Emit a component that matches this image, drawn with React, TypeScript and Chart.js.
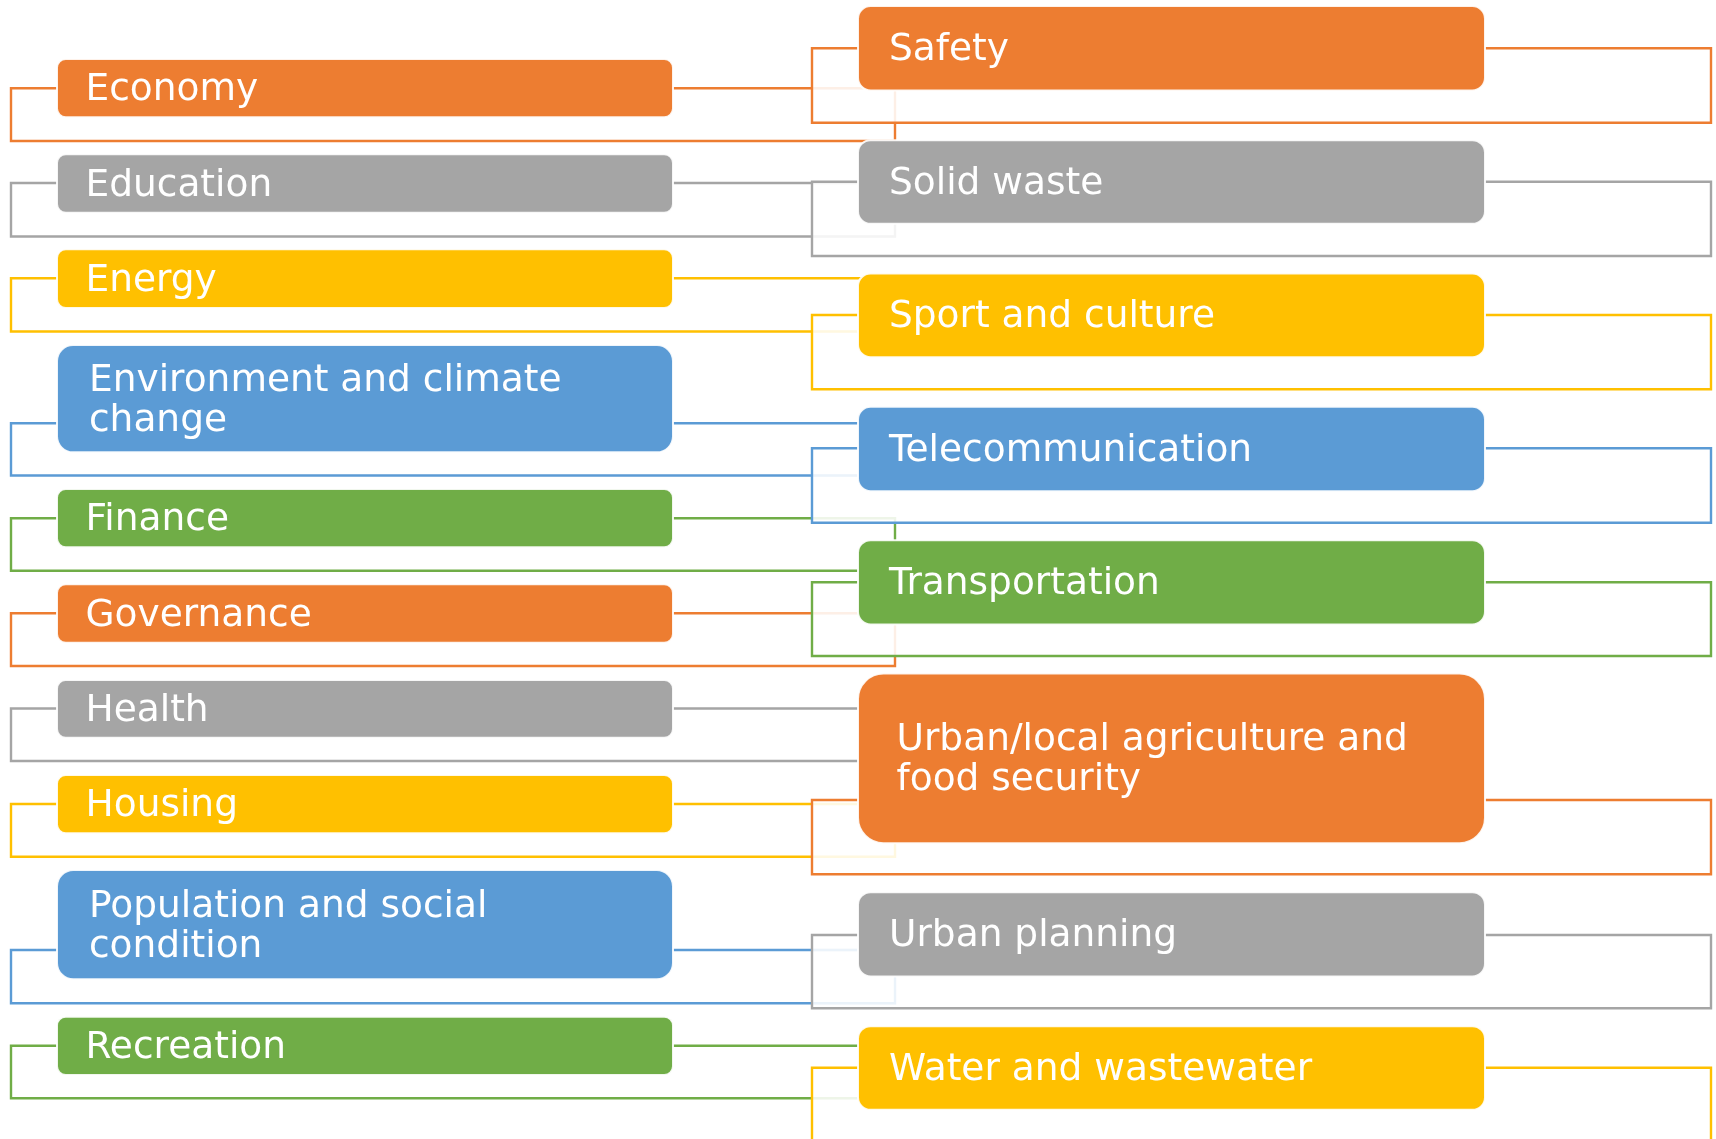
import React, { useEffect, useRef } from 'react';
import { Chart, registerables } from 'chart.js';

Chart.register(...registerables);

// ---- palette ----
const ORANGE = '#ED7D31';
const GRAY = '#A5A5A5';
const YELLOW = '#FFC000';
const BLUE = '#5B9BD5';
const GREEN = '#70AD47';

// ---- left column ----
const leftLabels = [
  'Economy',
  'Education',
  'Energy',
  'Environment and climate\nchange',
  'Finance',
  'Governance',
  'Health',
  'Housing',
  'Population and social\ncondition',
  'Recreation',
];
const leftColors = [ORANGE, GRAY, YELLOW, BLUE, GREEN, ORANGE, GRAY, YELLOW, BLUE, GREEN];
const leftTops = [59, 154.3, 249.3, 345, 489, 584.3, 680, 775, 870, 1016.7];
const leftBottoms = [117.3, 212.7, 308, 452.3, 547.3, 642.7, 737.7, 833.3, 979.3, 1075];
const leftLinkY = [88.3, 183, 278.3, 423.3, 518.3, 613.3, 708.5, 804, 950, 1045.7];
const leftLoopBottom = [141, 236.5, 331.5, 475.5, 570.8, 666, 761, 856.7, 1003.3, 1098.3];

// ---- right column ----
const rightLabels = [
  'Safety',
  'Solid waste',
  'Sport and culture',
  'Telecommunication',
  'Transportation',
  'Urban/local agriculture and\nfood security',
  'Urban planning',
  'Water and wastewater',
];
const rightColors = [ORANGE, GRAY, YELLOW, BLUE, GREEN, ORANGE, GRAY, YELLOW];
const rightTops = [6, 140.2, 273.5, 406.8, 540.2, 673.5, 892.2, 1026.2];
const rightBottoms = [90.5, 223.8, 357.2, 491.2, 624.5, 843.2, 976.5, 1109.8];
const rightLinkY = [48.3, 181.7, 315, 448.3, 582.3, 800, 935, 1067.7];
const rightLoopBottom = [122.7, 256, 389.3, 522.7, 656, 874.3, 1008.3, 1160];

// ---- layout (not data) ----
const W = 1716;
const H = 1139;
const LEFT_COL = { boxX0: 57, boxX1: 673, loopX0: 11, loopX1: 895, indentSingle: 28.5, indentMulti: 32 };
const RIGHT_COL = { boxX0: 858, boxX1: 1485, loopX0: 812, loopX1: 1711, indentSingle: 31, indentMulti: 38.5 };
const FONT_SIZE = 37.5;
const LINE_H = 40;

type Col = typeof LEFT_COL;

function loopDataset(col: Col, cy: number, by: number, color: string, order: number) {
  return {
    data: [
      { x: col.loopX0, y: cy },
      { x: col.loopX1, y: cy },
      { x: col.loopX1, y: by },
      { x: col.loopX0, y: by },
      { x: col.loopX0, y: cy },
    ],
    borderColor: color,
    backgroundColor: color,
    borderWidth: 2.4,
    borderCapStyle: 'square' as const,
    borderJoinStyle: 'miter' as const,
    pointRadius: 0,
    pointHoverRadius: 0,
    tension: 0,
    fill: false,
    order,
  };
}

const loopFillPlugin = {
  id: 'loopFill',
  beforeDatasetDraw(chart: any, args: any) {
    const pts = args.meta.data;
    if (!pts || !pts.length) return;
    const ctx = chart.ctx;
    ctx.save();
    ctx.beginPath();
    pts.forEach((p: any, i: number) => (i ? ctx.lineTo(p.x, p.y) : ctx.moveTo(p.x, p.y)));
    ctx.closePath();
    ctx.fillStyle = 'rgba(255,255,255,0.88)';
    ctx.fill();
    ctx.restore();
  },
};

const boxesPlugin = {
  id: 'boxes',
  afterDatasetsDraw(chart: any) {
    const ctx = chart.ctx as CanvasRenderingContext2D;
    const xs = chart.scales.x;
    const ys = chart.scales.y;
    const drawCol = (labels: string[], colors: string[], tops: number[], bottoms: number[], col: Col) => {
      labels.forEach((label, i) => {
        const x0 = xs.getPixelForValue(col.boxX0);
        const x1 = xs.getPixelForValue(col.boxX1);
        const y0 = ys.getPixelForValue(tops[i]);
        const y1 = ys.getPixelForValue(bottoms[i]);
        const h = y1 - y0;
        const r = 0.15 * h;
        ctx.save();
        ctx.beginPath();
        (ctx as any).roundRect(x0, y0, x1 - x0, h, r);
        ctx.fillStyle = colors[i];
        ctx.fill();
        ctx.lineWidth = 2;
        ctx.strokeStyle = 'rgba(255,255,255,0.9)';
        ctx.stroke();
        const lines = label.split('\n');
        const n = lines.length;
        const cy = (y0 + y1) / 2;
        const base0 = cy + 12 - ((n - 1) * LINE_H) / 2;
        const tx = x0 + (n > 1 ? col.indentMulti : col.indentSingle);
        ctx.fillStyle = '#FFFFFF';
        ctx.font = `${FONT_SIZE}px "DejaVu Sans"`;
        ctx.textBaseline = 'alphabetic';
        ctx.textAlign = 'left';
        lines.forEach((ln, k) => ctx.fillText(ln, tx, base0 + k * LINE_H));
        ctx.restore();
      });
    };
    drawCol(leftLabels, leftColors, leftTops, leftBottoms, LEFT_COL);
    drawCol(rightLabels, rightColors, rightTops, rightBottoms, RIGHT_COL);
  },
};

export default function App() {
  const ref = useRef<HTMLCanvasElement | null>(null);

  useEffect(() => {
    document.body.style.margin = '0';
    document.body.style.overflow = 'hidden';
    const canvas = ref.current;
    if (!canvas) return;

    const datasets: any[] = [];
    leftLabels.forEach((_, i) =>
      datasets.push(loopDataset(LEFT_COL, leftLinkY[i], leftLoopBottom[i], leftColors[i], 1))
    );
    rightLabels.forEach((_, i) =>
      datasets.push(loopDataset(RIGHT_COL, rightLinkY[i], rightLoopBottom[i], rightColors[i], 0))
    );

    const chart = new Chart(canvas, {
      type: 'line',
      data: { datasets },
      options: {
        animation: false,
        responsive: false,
        maintainAspectRatio: false,
        devicePixelRatio: 1,
        events: [],
        layout: { padding: 0 },
        scales: {
          x: { type: 'linear', min: 0, max: W, display: false },
          y: { type: 'linear', min: 0, max: H, reverse: true, display: false },
        },
        plugins: {
          legend: { display: false },
          tooltip: { enabled: false },
        },
      } as any,
      plugins: [loopFillPlugin, boxesPlugin],
    });

    return () => chart.destroy();
  }, []);

  return (
    <div style={{ width: W, height: H, background: '#FFFFFF' }}>
      <canvas ref={ref} width={W} height={H} style={{ display: 'block', width: W, height: H }} />
    </div>
  );
}
